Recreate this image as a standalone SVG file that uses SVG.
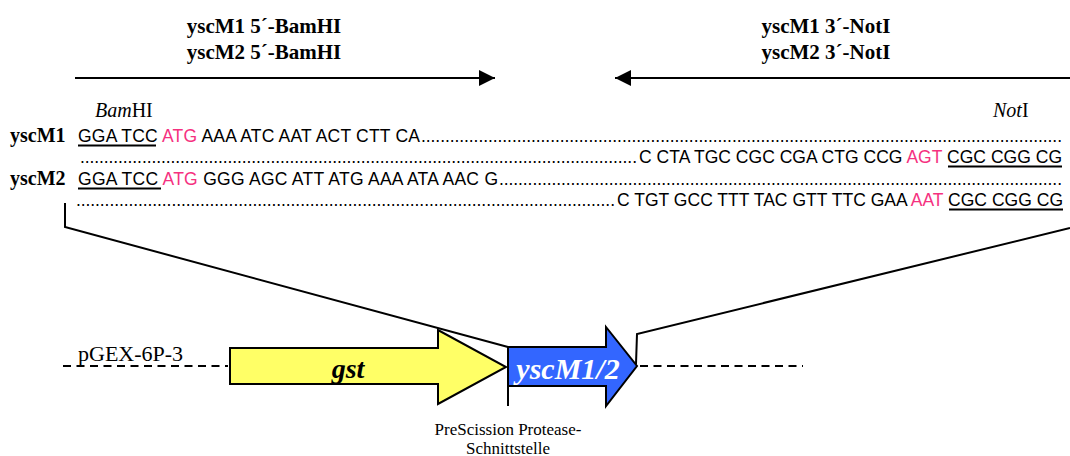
<svg xmlns="http://www.w3.org/2000/svg" width="1070" height="456" viewBox="0 0 1070 456">
<style>
text { white-space: pre; }
.title { font-family: "Liberation Serif", "Times New Roman", serif; font-weight: bold; font-size: 21px; fill: #000; text-anchor: middle; }
.lbl { font-family: "Liberation Serif", "Times New Roman", serif; font-weight: bold; font-size: 20px; fill: #000; }
.enz { font-family: "Liberation Serif", "Times New Roman", serif; font-size: 20px; fill: #000; }
.vec { font-family: "Liberation Serif", "Times New Roman", serif; font-size: 22px; fill: #000; }
.seq { font-family: "Liberation Sans", Arial, sans-serif; font-size: 17.5px; fill: #000; }
.pink { fill: #f5317f; }
.ul { stroke: #000; stroke-width: 2; }
.ln { stroke: #000; stroke-width: 2; fill: none; }
.dash { stroke: #000; stroke-width: 2; stroke-dasharray: 8 5.5; fill: none; }
.gene { stroke: #000; stroke-width: 2; stroke-linejoin: miter; }
.gname { font-family: "Liberation Serif", "Times New Roman", serif; font-weight: bold; font-style: italic; text-anchor: middle; }
.small { font-family: "Liberation Serif", "Times New Roman", serif; font-size: 17px; fill: #000; text-anchor: middle; }
</style>
<defs>
<marker id="ah" viewBox="0 0 16 16" refX="16" refY="8" markerWidth="16" markerHeight="16" markerUnits="userSpaceOnUse" orient="auto">
<path d="M0,0 L16,8 L0,16 Z" fill="#000"/>
</marker>
</defs>
<rect width="1070" height="456" fill="#fff"/>

<g id="primer-fwd-label">
<text class="title" x="264" y="33">yscM1 5´-BamHI</text>
<text class="title" x="264" y="59">yscM2 5´-BamHI</text>
</g>
<g id="primer-rev-label">
<text class="title" x="826" y="33">yscM1 3´-NotI</text>
<text class="title" x="826" y="59">yscM2 3´-NotI</text>
</g>

<g id="enzymes">
<text class="enz" x="95" y="117"><tspan font-style="italic">Bam</tspan>HI</text>
<text class="enz" x="993" y="117"><tspan font-style="italic">Not</tspan>I</text>
</g>

<g id="seq-yscM1">
<text class="lbl" x="10" y="142">yscM1</text>
<text class="seq" x="78" y="142" textLength="342" lengthAdjust="spacing">GGA TCC <tspan class="pink">ATG</tspan> AAA ATC AAT ACT CTT CA</text>
<text class="seq" x="421" y="142" textLength="641" lengthAdjust="spacing">......................................................................................................................................</text>
<line class="ul" x1="78" y1="145.5" x2="156" y2="145.5"/>
<text class="seq" x="80" y="163" textLength="557" lengthAdjust="spacing">.....................................................................................................................</text>
<text class="seq" x="639" y="163" textLength="423" lengthAdjust="spacing">C CTA TGC CGC CGA CTG CCG <tspan class="pink">AGT</tspan> CGC CGG CG</text>
<line class="ul" x1="948" y1="166.5" x2="1062" y2="166.5"/>
</g>

<g id="seq-yscM2">
<text class="lbl" x="10" y="185">yscM2</text>
<text class="seq" x="78" y="185" textLength="420" lengthAdjust="spacing">GGA TCC <tspan class="pink">ATG</tspan> GGG AGC ATT ATG AAA ATA AAC G</text>
<text class="seq" x="499" y="185" textLength="563" lengthAdjust="spacing">......................................................................................................................</text>
<line class="ul" x1="78" y1="188.5" x2="161" y2="188.5"/>
<text class="seq" x="76" y="206" textLength="539" lengthAdjust="spacing">.................................................................................................................</text>
<text class="seq" x="617" y="206" textLength="446" lengthAdjust="spacing">C TGT GCC TTT TAC GTT TTC GAA <tspan class="pink">AAT</tspan> CGC CGG CG</text>
<line class="ul" x1="949" y1="209.5" x2="1063" y2="209.5"/>
</g>

<g id="connectors">
<line class="ln" x1="75" y1="78" x2="495" y2="78" marker-end="url(#ah)"/>
<line class="ln" x1="1070" y1="78" x2="615" y2="78" marker-end="url(#ah)"/>
<polyline class="ln" points="65,203 65,227 508,347"/>
<polyline class="ln" points="1070,228 637,334 636,364"/>
<line class="ln" x1="508" y1="347" x2="508" y2="406"/>
<line class="dash" x1="63" y1="366" x2="228" y2="366"/>
<line class="dash" x1="640" y1="366" x2="803" y2="366"/>
</g>

<g id="vector-label">
<text class="vec" x="78" y="361">pGEX-6P-3</text>
</g>

<g id="gene-gst">
<polygon class="gene" fill="#ffff66" points="230,348 438,348 438,330 506,367 438,404 438,384 230,384"/>
<text class="gname" x="348" y="378" font-size="28" fill="#000">gst</text>
</g>

<g id="gene-yscM">
<polygon class="gene" fill="#3366ff" points="508,347 606,347 606,327 637,366 606,406 606,386 508,386"/>
<text class="gname" x="568" y="379" font-size="30" fill="#fff">yscM1/2</text>
</g>

<g id="cleavage-label">
<text class="small" x="508" y="435">PreScission Protease-</text>
<text class="small" x="508" y="454">Schnittstelle</text>
</g>
</svg>
